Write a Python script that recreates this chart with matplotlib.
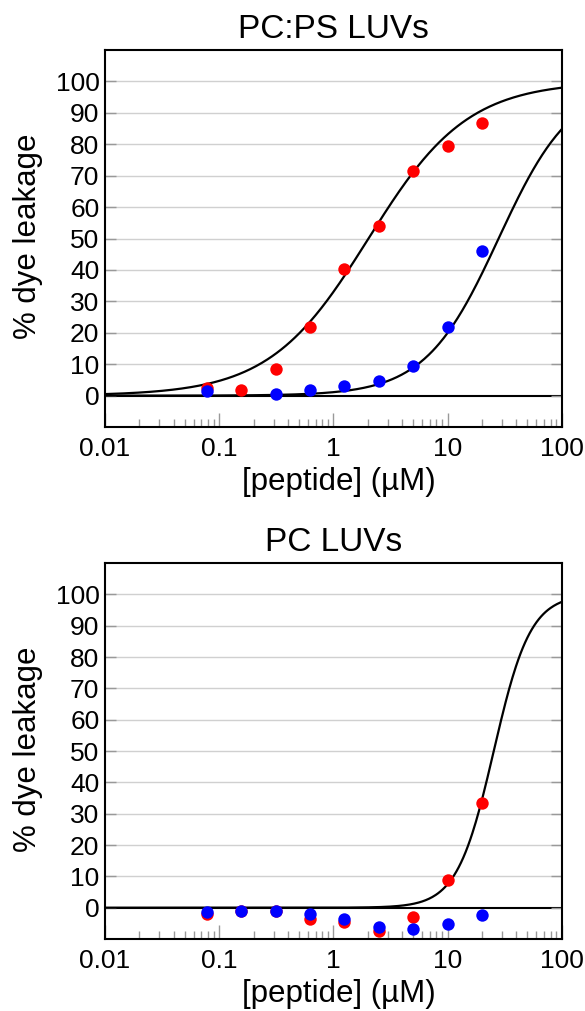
import numpy as np
import matplotlib
matplotlib.use('agg')
import matplotlib.pyplot as plt
from matplotlib.ticker import LogLocator, NullFormatter, FixedLocator

plt.rcParams['font.family'] = ['Liberation Sans', 'DejaVu Sans']

# -------------------- data --------------------
conc = [0.078, 0.156, 0.3125, 0.625, 1.25, 2.5, 5, 10, 20]

# PC:PS LUVs
pcps_red = [2.4, 1.9, 8.6, 22.0, 40.3, 54.0, 71.4, 79.5, 86.7]
pcps_blue = [1.6, np.nan, 0.6, 1.7, 3.2, 4.8, 9.5, 21.7, 46.0]

# PC LUVs
pc_red = [-2.0, -1.0, -1.0, -3.6, -4.7, -7.4, -3.1, 8.7, 33.5]
pc_blue = [-1.5, -1.0, -0.9, -2.1, -3.5, -6.3, -6.8, -5.2, -2.4]

# Hill fit params (top, EC50, n)
fit_pcps_red = (100, 2.03, 1.0)
fit_pcps_blue = (100, 28, 1.35)
fit_pc_red = (100, 25.4, 2.7)

titles = ['PC:PS LUVs', 'PC LUVs']
yticks = list(range(0, 101, 10))


def hill(x, top, ec50, n):
    return top / (1 + (ec50 / x) ** n)


def style_axes(ax, title):
    ax.set_xscale('log')
    ax.set_xlim(0.01, 100)
    ax.set_ylim(-10, 110)
    for y in yticks[1:]:
        ax.axhline(y, color='#d0d0d0', lw=1.0, zorder=0)
    ax.axhline(0, color='black', lw=1.5, zorder=1)
    ax.yaxis.set_major_locator(FixedLocator(yticks))
    ax.tick_params(axis='y', direction='in', length=8, width=1, color='#999999',
                   left=True, right=True, labelsize=19, pad=4)
    ax.xaxis.set_minor_locator(LogLocator(base=10, subs=np.arange(2, 10), numticks=10))
    ax.xaxis.set_minor_formatter(NullFormatter())
    ax.set_xticks([0.01, 0.1, 1, 10, 100])
    ax.set_xticklabels(['0.01', '0.1', '1', '10', '100'])
    ax.tick_params(axis='x', which='major', direction='in', length=10, width=1,
                   color='#999999', labelsize=19, pad=7)
    ax.tick_params(axis='x', which='minor', direction='in', length=6, width=1,
                   color='#999999')
    for sp in ax.spines.values():
        sp.set_linewidth(1.5)
        sp.set_color('black')
        sp.set_zorder(5)
    ax.set_title(title, fontsize=24, pad=9)
    ax.text(-0.169, 0.505, '% dye leakage', transform=ax.transAxes, rotation=90,
            ha='center', va='center', fontsize=22.5)
    ax.text(0.512, -0.146, '[peptide] (µM)', transform=ax.transAxes,
            ha='center', va='center', fontsize=22.5)


fig = plt.figure(figsize=(5.85, 10.11), dpi=100)
ax1 = fig.add_axes([0.1795, 0.5776, 0.7807, 0.3729])
ax2 = fig.add_axes([0.1795, 0.0712, 0.7807, 0.3719])

xs = np.logspace(-2, 2, 400)

style_axes(ax1, titles[0])
ax1.plot(xs, hill(xs, *fit_pcps_red), color='black', lw=1.6, zorder=3)
ax1.plot(xs, hill(xs, *fit_pcps_blue), color='black', lw=1.6, zorder=3)
ax1.scatter(conc, pcps_red, s=80, color='#ff0000', zorder=4, linewidths=0)
ax1.scatter(conc, pcps_blue, s=80, color='#0000ff', zorder=4, linewidths=0)

style_axes(ax2, titles[1])
ax2.plot(xs, hill(xs, *fit_pc_red), color='black', lw=1.6, zorder=3)
ax2.scatter(conc, pc_red, s=80, color='#ff0000', zorder=4, linewidths=0)
ax2.scatter(conc, pc_blue, s=80, color='#0000ff', zorder=4, linewidths=0)

fig.savefig('out.png', dpi=100)
